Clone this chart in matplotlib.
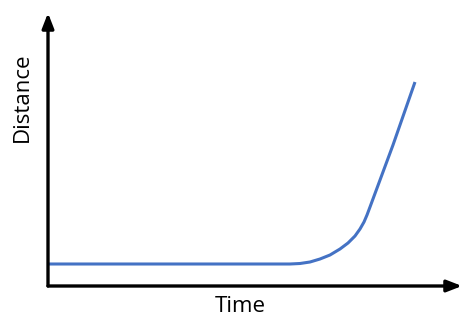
import matplotlib
matplotlib.use('Agg')
import matplotlib.pyplot as plt

# curve (time, distance)
time = [0, 60, 120, 180, 242, 252, 262, 272, 282, 292, 300, 307, 312, 316, 319, 322, 345, 367]
distance = [22, 22, 22, 22, 22, 22.5, 24, 27, 31, 37, 43, 50, 57, 64, 71, 79, 141, 204]

W, H = 474, 335
fig = plt.figure(figsize=(W / 100, H / 100), dpi=100)
fig.set_facecolor('white')

# axes box in pixels: left 48, right 462, top 13, bottom 286
ax = fig.add_axes([48 / W, (H - 286) / H, (462 - 48) / W, (286 - 13) / H])
ax.set_xlim(0, 414)
ax.set_ylim(0, 273)
for s in ax.spines.values():
    s.set_visible(False)
ax.set_xticks([])
ax.set_yticks([])
ax.patch.set_alpha(0)

ax.plot(time, distance, color='#4472c4', lw=2.2, solid_capstyle='butt',
        solid_joinstyle='round', zorder=3)

arrow = dict(arrowstyle='-|>,head_length=0.9,head_width=0.35', color='black', lw=2.4,
             shrinkA=0, shrinkB=0)
ax.annotate('', xy=(1.0, 0), xytext=(0, 0), xycoords='axes fraction', arrowprops=arrow)
ax.annotate('', xy=(0, 1.0), xytext=(0, 0), xycoords='axes fraction', arrowprops=arrow)

fig.text(240 / W, 1 - 307 / H, 'Time', ha='center', va='center', fontsize=16, family='Open Sans')
fig.text(22 / W, 1 - 97 / H, 'Distance', ha='center', va='center', rotation=90,
         fontsize=16, family='Open Sans')

fig.savefig('out.png', dpi=100)
